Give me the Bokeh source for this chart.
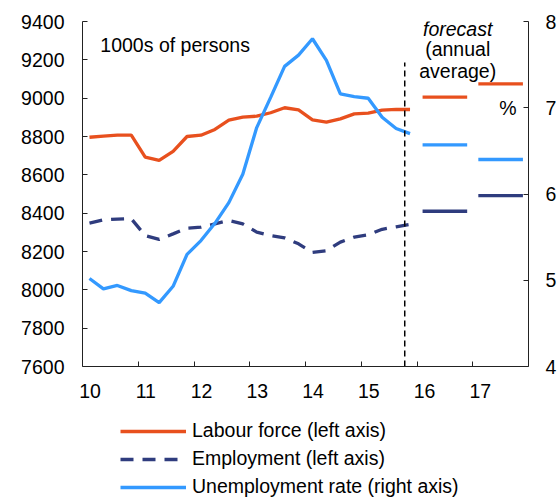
from bokeh.plotting import figure
from bokeh.layouts import column
from bokeh.models import (Range1d, LinearAxis, FixedTicker, Legend, LegendItem, Label)
from bokeh.embed import file_html
from bokeh.resources import INLINE

# ---------------- data ----------------
years = [10, 11, 12, 13, 14, 15]
quarters = [1, 2, 3, 4]
quarter_x = [y + (q - 0.5) / 4 for y in years for q in quarters]

labour_force = [8796, 8802, 8807, 8807, 8692, 8675, 8723, 8800, 8807, 8837, 8885, 8901,
                8906, 8924, 8950, 8939, 8887, 8875, 8892, 8918, 8922, 8938, 8941, 8941]
employment = [8348, 8365, 8369, 8371, 8283, 8263, 8292, 8322, 8327, 8344, 8362, 8344,
              8301, 8283, 8271, 8240, 8195, 8204, 8249, 8275, 8287, 8316, 8329, 8341]
unemployment = [5.02, 4.90, 4.94, 4.88, 4.85, 4.74, 4.93, 5.30, 5.46, 5.66, 5.90, 6.23,
                6.77, 7.12, 7.48, 7.61, 7.80, 7.55, 7.16, 7.13, 7.11, 6.89, 6.76, 6.70]

forecast_years = [16, 17]
labour_force_fc = [9005, 9075]
employment_fc = [8410, 8492]
unemployment_fc = [6.57, 6.40]

series_names = ["Labour force (left axis)", "Employment (left axis)",
                "Unemployment rate (right axis)"]
x_tick_labels = ["10", "11", "12", "13", "14", "15", "16", "17"]
left_ticks = [7600, 7800, 8000, 8200, 8400, 8600, 8800, 9000, 9200, 9400]
right_ticks = [4, 5, 6, 7, 8]
forecast_start = 15.78

# ---------------- style ----------------
ORANGE = "#E8501E"
BLUE = "#3399FF"
NAVY = "#2F3C7E"
FONT = "Liberation Sans"
FS = "19.5px"
AXIS_COLOR = "#222222"
LW = 3.3
EMP_DASH = "13 9"

p = figure(frame_width=446, frame_height=345, min_border_left=82, min_border_right=32,
           min_border_top=21, min_border_bottom=46,
           x_range=Range1d(10, 18), y_range=Range1d(7600, 9400),
           output_backend="svg", toolbar_location=None, x_axis_type=None, y_axis_type=None)
p.extra_y_ranges = {"rate": Range1d(4, 8)}
p.outline_line_color = None
p.xgrid.visible = False
p.ygrid.visible = False
p.background_fill_color = "white"
p.border_fill_color = "white"

# x axis: labels slightly right of year boundaries, ticks at boundaries
label_pos = [int(t) + 0.135 for t in x_tick_labels]
xaxis = LinearAxis(ticker=FixedTicker(ticks=label_pos, minor_ticks=list(range(11, 18))))
xaxis.major_label_overrides = {pos: lab for pos, lab in zip(label_pos, x_tick_labels)}
xaxis.major_tick_in = 0
xaxis.major_tick_out = 0
xaxis.minor_tick_in = 5
xaxis.minor_tick_out = 0
xaxis.minor_tick_line_color = AXIS_COLOR
xaxis.major_label_standoff = 17
p.add_layout(xaxis, "below")

yaxis = LinearAxis(ticker=FixedTicker(ticks=left_ticks))
yaxis.major_tick_in = 5
yaxis.major_tick_out = 0
yaxis.minor_tick_line_color = None
yaxis.major_label_standoff = 18
p.add_layout(yaxis, "left")

raxis = LinearAxis(y_range_name="rate", ticker=FixedTicker(ticks=right_ticks))
raxis.major_tick_in = 5
raxis.major_tick_out = 0
raxis.minor_tick_line_color = None
raxis.major_label_standoff = 17
p.add_layout(raxis, "right")

for ax in (xaxis, yaxis, raxis):
    ax.axis_line_color = AXIS_COLOR
    ax.major_tick_line_color = AXIS_COLOR
    ax.major_label_text_font = FONT
    ax.major_label_text_font_size = FS
    ax.major_label_text_color = "black"

p.line(quarter_x, labour_force, color=ORANGE, line_width=LW)
p.line(quarter_x, employment, color=NAVY, line_width=LW, line_dash=EMP_DASH)
p.line(quarter_x, unemployment, color=BLUE, line_width=LW, y_range_name="rate")

# forecast annual averages
fx0 = [y + 0.1 for y in forecast_years]
fx1 = [y + 0.9 for y in forecast_years]
p.segment(fx0, labour_force_fc, fx1, labour_force_fc, color=ORANGE, line_width=LW)
p.segment(fx0, employment_fc, fx1, employment_fc, color=NAVY, line_width=LW)
p.segment(fx0, unemployment_fc, fx1, unemployment_fc, color=BLUE, line_width=LW,
          y_range_name="rate")

# forecast divider
p.segment([forecast_start], [7600], [forecast_start], [9186], color="black",
          line_width=1.5, line_dash="6 4")

# annotations
def lab(text, x, y, align="left", style="normal"):
    p.add_layout(Label(x=x, y=y, text=text, text_font=FONT, text_font_size=FS,
                       text_align=align, text_baseline="middle", text_color="black",
                       text_font_style=style))

lab("1000s of persons", 10.32, 9275)
lab("forecast", 16.73, 9362, align="center", style="italic")
lab("(annual", 16.73, 9257, align="center")
lab("average)", 16.73, 9142, align="center")
lab("%", 17.63, 8951, align="center")

# ---------------- legend strip (below the chart) ----------------
leg = figure(frame_width=560, frame_height=85, min_border=0,
             x_range=Range1d(0, 1), y_range=Range1d(0, 1),
             output_backend="svg", toolbar_location=None, x_axis_type=None, y_axis_type=None)
leg.outline_line_color = None
leg.xgrid.visible = False
leg.ygrid.visible = False
leg.border_fill_color = "white"
NAN = float("nan")
k_lab = leg.line([NAN], [NAN], color=ORANGE, line_width=LW)
k_emp = leg.line([NAN], [NAN], color=NAVY, line_width=LW, line_dash=EMP_DASH)
k_une = leg.line([NAN], [NAN], color=BLUE, line_width=LW)

legend = Legend(items=[
    LegendItem(label=series_names[0], renderers=[k_lab]),
    LegendItem(label=series_names[1], renderers=[k_emp]),
    LegendItem(label=series_names[2], renderers=[k_une]),
], location=(120, -1), orientation="vertical", glyph_width=66, glyph_height=20,
   label_height=20, spacing=5, padding=0, margin=0, label_standoff=6,
   border_line_alpha=0, background_fill_alpha=0,
   label_text_font=FONT, label_text_font_size=FS, label_text_color="black")
leg.add_layout(legend)

layout = column(p, leg, spacing=0)
open("out.html", "w").write(file_html(layout, INLINE))
